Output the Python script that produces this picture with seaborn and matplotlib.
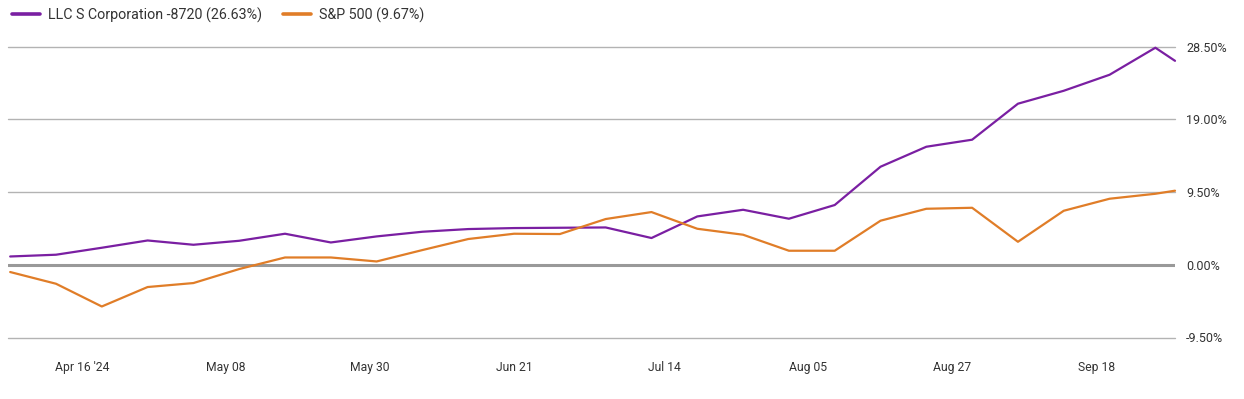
import matplotlib
matplotlib.use("Agg")
import matplotlib.pyplot as plt
import seaborn as sns
import pandas as pd
from matplotlib.lines import Line2D

dates = list(pd.date_range("2024-04-05", "2024-09-27", freq="7D")) + [pd.Timestamp("2024-09-30")]

llc_values = [1.08, 1.31, 2.22, 3.17, 2.61, 3.13, 4.05, 2.91, 3.70, 4.31, 4.66, 4.79, 4.83, 4.87,
              3.49, 6.31, 7.18, 6.01, 7.80, 12.80, 15.41, 16.33, 21.03, 22.72, 24.81, 28.34, 26.63]
sp_values = [-0.95, -2.48, -5.45, -2.91, -2.39, -0.56, 0.95, 0.95, 0.43, 1.92, 3.36, 4.05, 4.01, 5.97,
             6.88, 4.70, 3.92, 1.83, 1.83, 5.75, 7.31, 7.44, 3.00, 7.05, 8.62, 9.27, 9.67]

series_names = ["LLC S Corporation -8720 (26.63%)", "S&P 500 (9.67%)"]
colors = ["#7A1FA2", "#E07D28"]

y_ticks = [-9.5, 0.0, 9.5, 19.0, 28.5]
x_tick_dates = ["2024-04-16", "2024-05-08", "2024-05-30", "2024-06-21",
                "2024-07-14", "2024-08-05", "2024-08-27", "2024-09-18"]
x_tick_labels = ["Apr 16 '24", "May 08", "May 30", "Jun 21", "Jul 14", "Aug 05", "Aug 27", "Sep 18"]

df = pd.DataFrame({
    "date": dates * 2,
    "value": llc_values + sp_values,
    "series": [series_names[0]] * len(dates) + [series_names[1]] * len(dates),
})

sns.set_style("white")
plt.rcParams["font.family"] = ["Roboto", "DejaVu Sans"]

fig = plt.figure(figsize=(12.44, 3.99), dpi=100)
ax = fig.add_axes([8 / 1244, 1 - 337.5 / 399, (1175 - 8) / 1244, (337.5 - 46.5) / 399])

for yt in y_ticks:
    if yt == 0:
        ax.axhline(yt, color="#999999", lw=2.2, zorder=1)
    else:
        ax.axhline(yt, color="#b3b3b3", lw=1.0, zorder=1, clip_on=False)

sns.lineplot(data=df, x="date", y="value", hue="series", palette=colors, ax=ax,
             linewidth=1.6, legend=False, zorder=3, clip_on=False)

ax.set_xlim(pd.Timestamp("2024-04-05") - pd.Timedelta(hours=8), pd.Timestamp("2024-09-30"))
ax.set_ylim(-9.5, 28.5)

ax.yaxis.tick_right()
ax.set_yticks(y_ticks)
ax.set_yticklabels([f"{v:.2f}%" for v in y_ticks])
ax.tick_params(axis="y", length=0, pad=8, labelsize=9, labelcolor="#333333")

ax.set_xticks([pd.Timestamp(d) for d in x_tick_dates])
ax.set_xticklabels(x_tick_labels)
ax.tick_params(axis="x", length=7, width=0.8, color="#999999", pad=10, labelsize=8.7,
               labelcolor="#333333", direction="out")

ax.set_xlabel("")
ax.set_ylabel("")
for s in ax.spines.values():
    s.set_visible(False)

handles = [Line2D([0], [0], color=c, lw=2.6) for c in colors]
fig.legend(handles, series_names, loc="center left", bbox_to_anchor=(12 / 1244, 1 - 15 / 399),
           ncol=2, frameon=False, fontsize=10.3, handlelength=1.95, handletextpad=0.55,
           columnspacing=1.5, borderpad=0, borderaxespad=0, labelcolor="#333333")

fig.savefig("out.png", dpi=100, facecolor="white")
